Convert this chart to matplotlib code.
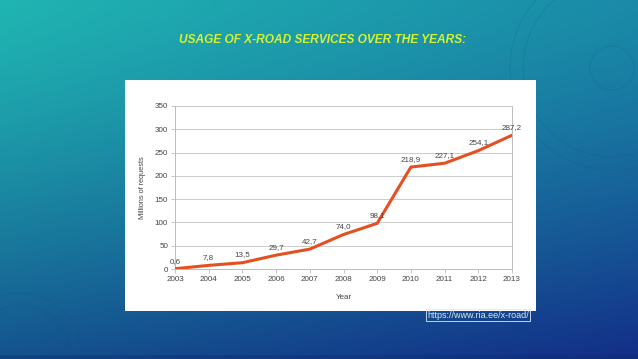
import numpy as np
import matplotlib
matplotlib.use("Agg")
import matplotlib.pyplot as plt
from matplotlib.patches import Rectangle, Circle

years = [2003, 2004, 2005, 2006, 2007, 2008, 2009, 2010, 2011, 2012, 2013]
requests = [0.6, 7.8, 13.5, 29.7, 42.7, 74.0, 98.1, 218.9, 227.1, 254.1, 287.2]
labels = ["0,6", "7,8", "13,5", "29,7", "42,7", "74,0", "98,1",
          "218,9", "227,1", "254,1", "287,2"]
y_ticks = [0, 50, 100, 150, 200, 250, 300, 350]

plt.rcParams['font.family'] = ['Liberation Sans', 'DejaVu Sans']

W, H = 638, 359
fig = plt.figure(figsize=(W / 100, H / 100), dpi=100)

# background gradient (slide)
bg = fig.add_axes([0, 0, 1, 1])
tl = np.array([0x20, 0xb4, 0xb2]) / 255
tr = np.array([0x1a, 0x8a, 0xa8]) / 255
bl = np.array([0x14, 0x52, 0x8e]) / 255
br = np.array([0x13, 0x2e, 0x88]) / 255
u = np.linspace(0, 1, 200)[None, :, None]
v = (np.linspace(0, 1, 120) ** 1.3)[:, None, None]
img = (1 - v) * ((1 - u) * tl + u * tr) + v * ((1 - u) * bl + u * br)
bg.imshow(img, extent=[0, W, H, 0], aspect='auto', interpolation='bilinear')
bg.set_xlim(0, W)
bg.set_ylim(H, 0)
bg.axis('off')

# faint decorative circles
for cx, cy, r in [(612, 68, 22), (612, 68, 89), (612, 68, 102), (20, 355, 50), (20, 355, 62)]:
    bg.add_patch(Circle((cx, cy), r, fill=False, ec='#0d5070', lw=0.6, alpha=0.2))
bg.add_patch(Rectangle((0, 355), W, 4, color='#102e6e', alpha=0.4, lw=0))

# white picture box
bg.add_patch(Rectangle((125, 80), 411, 231, facecolor='white', edgecolor='none'))

bg.text(323, 40, "USAGE OF X-ROAD SERVICES OVER THE YEARS:", color='#d4f232',
        fontsize=8.6, fontweight='bold', fontstyle='italic', ha='center', va='center')
bg.text(478, 315, "https://www.ria.ee/x-road/", color='#d8eee0', fontsize=6.5,
        ha='center', va='center',
        bbox=dict(boxstyle='square,pad=0.15', fc='none', ec='#e0e8f0', lw=0.6))

# chart
ax = fig.add_axes([175 / W, 1 - 269 / H, (512 - 175) / W, (269 - 106) / H])
ax.set_facecolor('white')
ax.plot(years, requests, color='#e4501f', lw=2.2, solid_joinstyle='miter', zorder=3)
for x, y, s in zip(years, requests, labels):
    ax.annotate(s, (x, y), xytext=(0, 3), textcoords='offset points',
                ha='center', va='bottom', fontsize=5.8, color='#444444')

ax.set_xlim(2003, 2013)
ax.set_ylim(0, 350)
ax.set_yticks(y_ticks)
ax.set_xticks(years)
ax.grid(axis='y', color='#cccccc', lw=0.7)
ax.set_axisbelow(True)
ax.spines['top'].set_visible(False)
for side in ['left', 'right', 'bottom']:
    ax.spines[side].set_color('#bbbbbb')
    ax.spines[side].set_linewidth(0.7)
ax.tick_params(axis='both', labelsize=5.8, labelcolor='#444444', color='#bbbbbb',
               length=3, width=0.6, pad=2)
ax.set_ylabel("Millions of requests", fontsize=5.3, color='#444444', labelpad=6)
ax.set_xlabel("Year", fontsize=5.8, color='#444444', labelpad=8)

fig.savefig("out.png", dpi=100)
